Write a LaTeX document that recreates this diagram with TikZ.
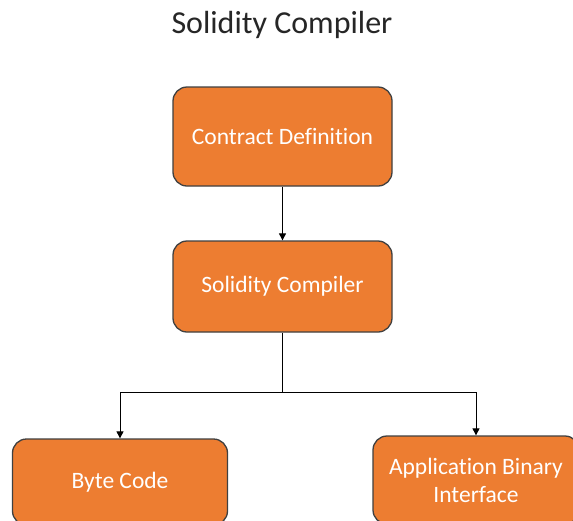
\documentclass[tikz,border=0pt]{standalone}
\usepackage{fontspec}
\setmainfont[Ligatures={NoCommon}]{Carlito}
\usetikzlibrary{arrows.meta,positioning}
\definecolor{boxorange}{HTML}{ED7D31}
\definecolor{boxedge}{HTML}{404040}
\begin{document}
\begin{tikzpicture}[x=1pt,y=-1pt,
  stagebox/.style={draw=boxedge,line width=1.3pt,fill=boxorange,rounded corners=14pt,
    text=white,font=\fontsize{23.5}{28}\selectfont,align=center,inner sep=0pt},
  flow/.style={draw=black,line width=0.9pt,-{Triangle[length=7pt,width=7pt]}}]
  \useasboundingbox (0,0) rectangle (573,520);
  \clip (0,0) rectangle (573,520);
  \fill[white] (0,0) rectangle (573,520);
  % heading
  \node[font=\fontsize{32}{38}\selectfont,text=black!85] (title) at (282,25) {Solidity Compiler};
  % stages
  \node[stagebox,minimum width=219pt,minimum height=99pt] (cd) at (282.5,136.5) {Contract Definition};
  \node[stagebox,minimum width=219pt,minimum height=91pt] (sc) at (282.5,286.5) {Solidity Compiler};
  \node[stagebox,minimum width=215pt,minimum height=86pt] (bc) at (120,482) {Byte Code};
  \node[stagebox,minimum width=206pt,minimum height=88pt] (abi) at (476,480) {Application Binary\\Interface};
  % connectors
  \coordinate (split) at (sc.south |- {(0,392)});
  \draw[flow] (cd) -- (sc);
  \draw[flow] (sc.south) -- (split) -| (bc.north);
  \draw[flow] (split) -| (abi.north);
\end{tikzpicture}
\end{document}
